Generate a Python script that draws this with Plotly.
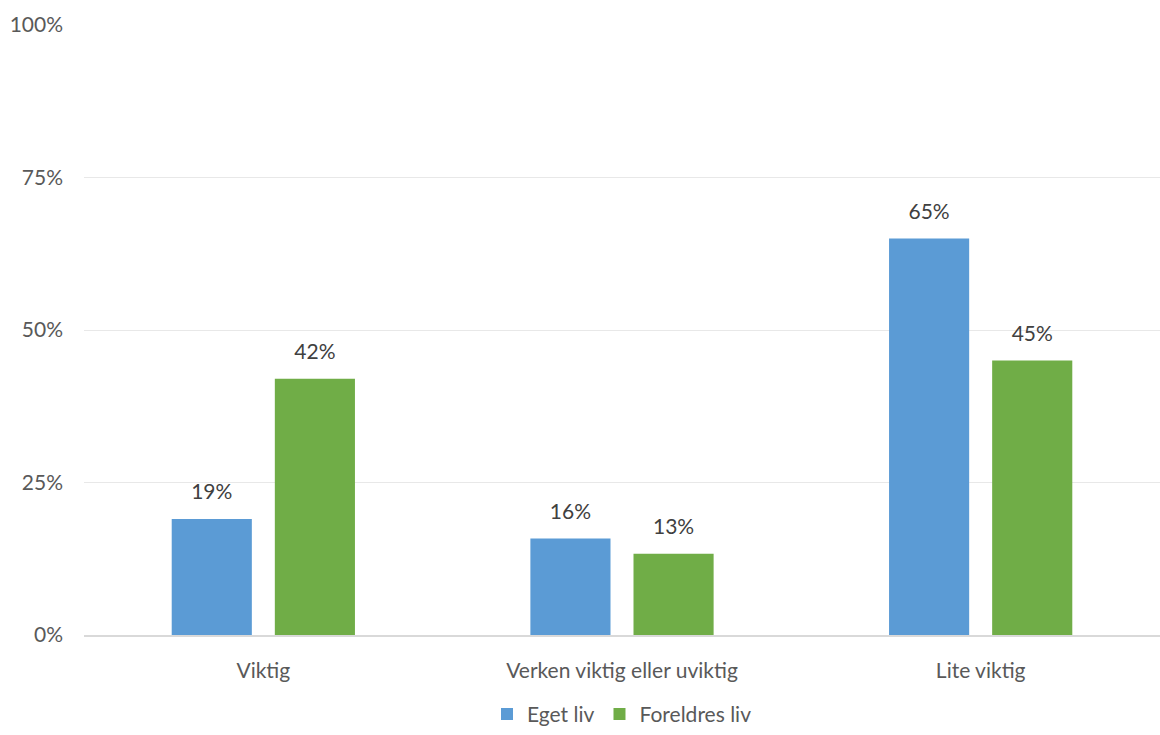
import plotly.graph_objects as go

categories = ["Viktig", "Verken viktig eller uviktig", "Lite viktig"]
eget_liv = [19, 15.8, 65]
foreldres_liv = [42, 13.3, 45]
y_ticks = [0, 25, 50, 75, 100]
y_tick_labels = ["0%", "25%", "50%", "75%", "100%"]

text_color = "#595959"
font_family = "Lato"

fig = go.Figure()

series = [("Eget liv", eget_liv, "#5B9BD5"), ("Foreldres liv", foreldres_liv, "#70AD47")]
for name, vals, color in series:
    fig.add_trace(go.Bar(
        x=categories, y=vals, name=name,
        marker=dict(color=color, line=dict(width=0)),
        offsetgroup=name,
    ))

# value labels: invisible markers push the text up off the bar top
for name, vals, color in series:
    fig.add_trace(go.Scatter(
        x=categories, y=vals, mode="markers+text",
        marker=dict(size=22, opacity=0),
        text=[f"{v:.0f}%" for v in vals],
        textposition="top center",
        textfont=dict(color="#404040", size=21, family=font_family),
        offsetgroup=name, showlegend=False, hoverinfo="skip",
        cliponaxis=False,
    ))

fig.update_layout(
    width=1160, height=735,
    margin=dict(l=84, r=0, t=25, b=80),
    paper_bgcolor="white", plot_bgcolor="white",
    font=dict(family=font_family, size=21, color=text_color),
    barmode="group",
    scattermode="group",
    bargap=0.425,
    bargroupgap=0.223,
    showlegend=True,
    legend=dict(
        orientation="h", x=0.5, xanchor="center", y=-0.13, yanchor="middle",
        font=dict(size=21, color=text_color),
        itemwidth=30,
    ),
)

fig.update_yaxes(
    range=[0, 100],
    tickvals=y_ticks, ticktext=y_tick_labels,
    showgrid=True, gridcolor="#E8E8E8", gridwidth=1,
    zeroline=False, showline=False,
    ticks="", ticklabelstandoff=20, automargin=False,
)
fig.update_xaxes(
    showline=True, linecolor="#D9D9D9", linewidth=1.5,
    ticks="", ticklabelstandoff=16, automargin=False,
)

page_fix = "document.body.style.margin='0';"
fig.write_html("out.html", config={"displayModeBar": False}, post_script=page_fix)
